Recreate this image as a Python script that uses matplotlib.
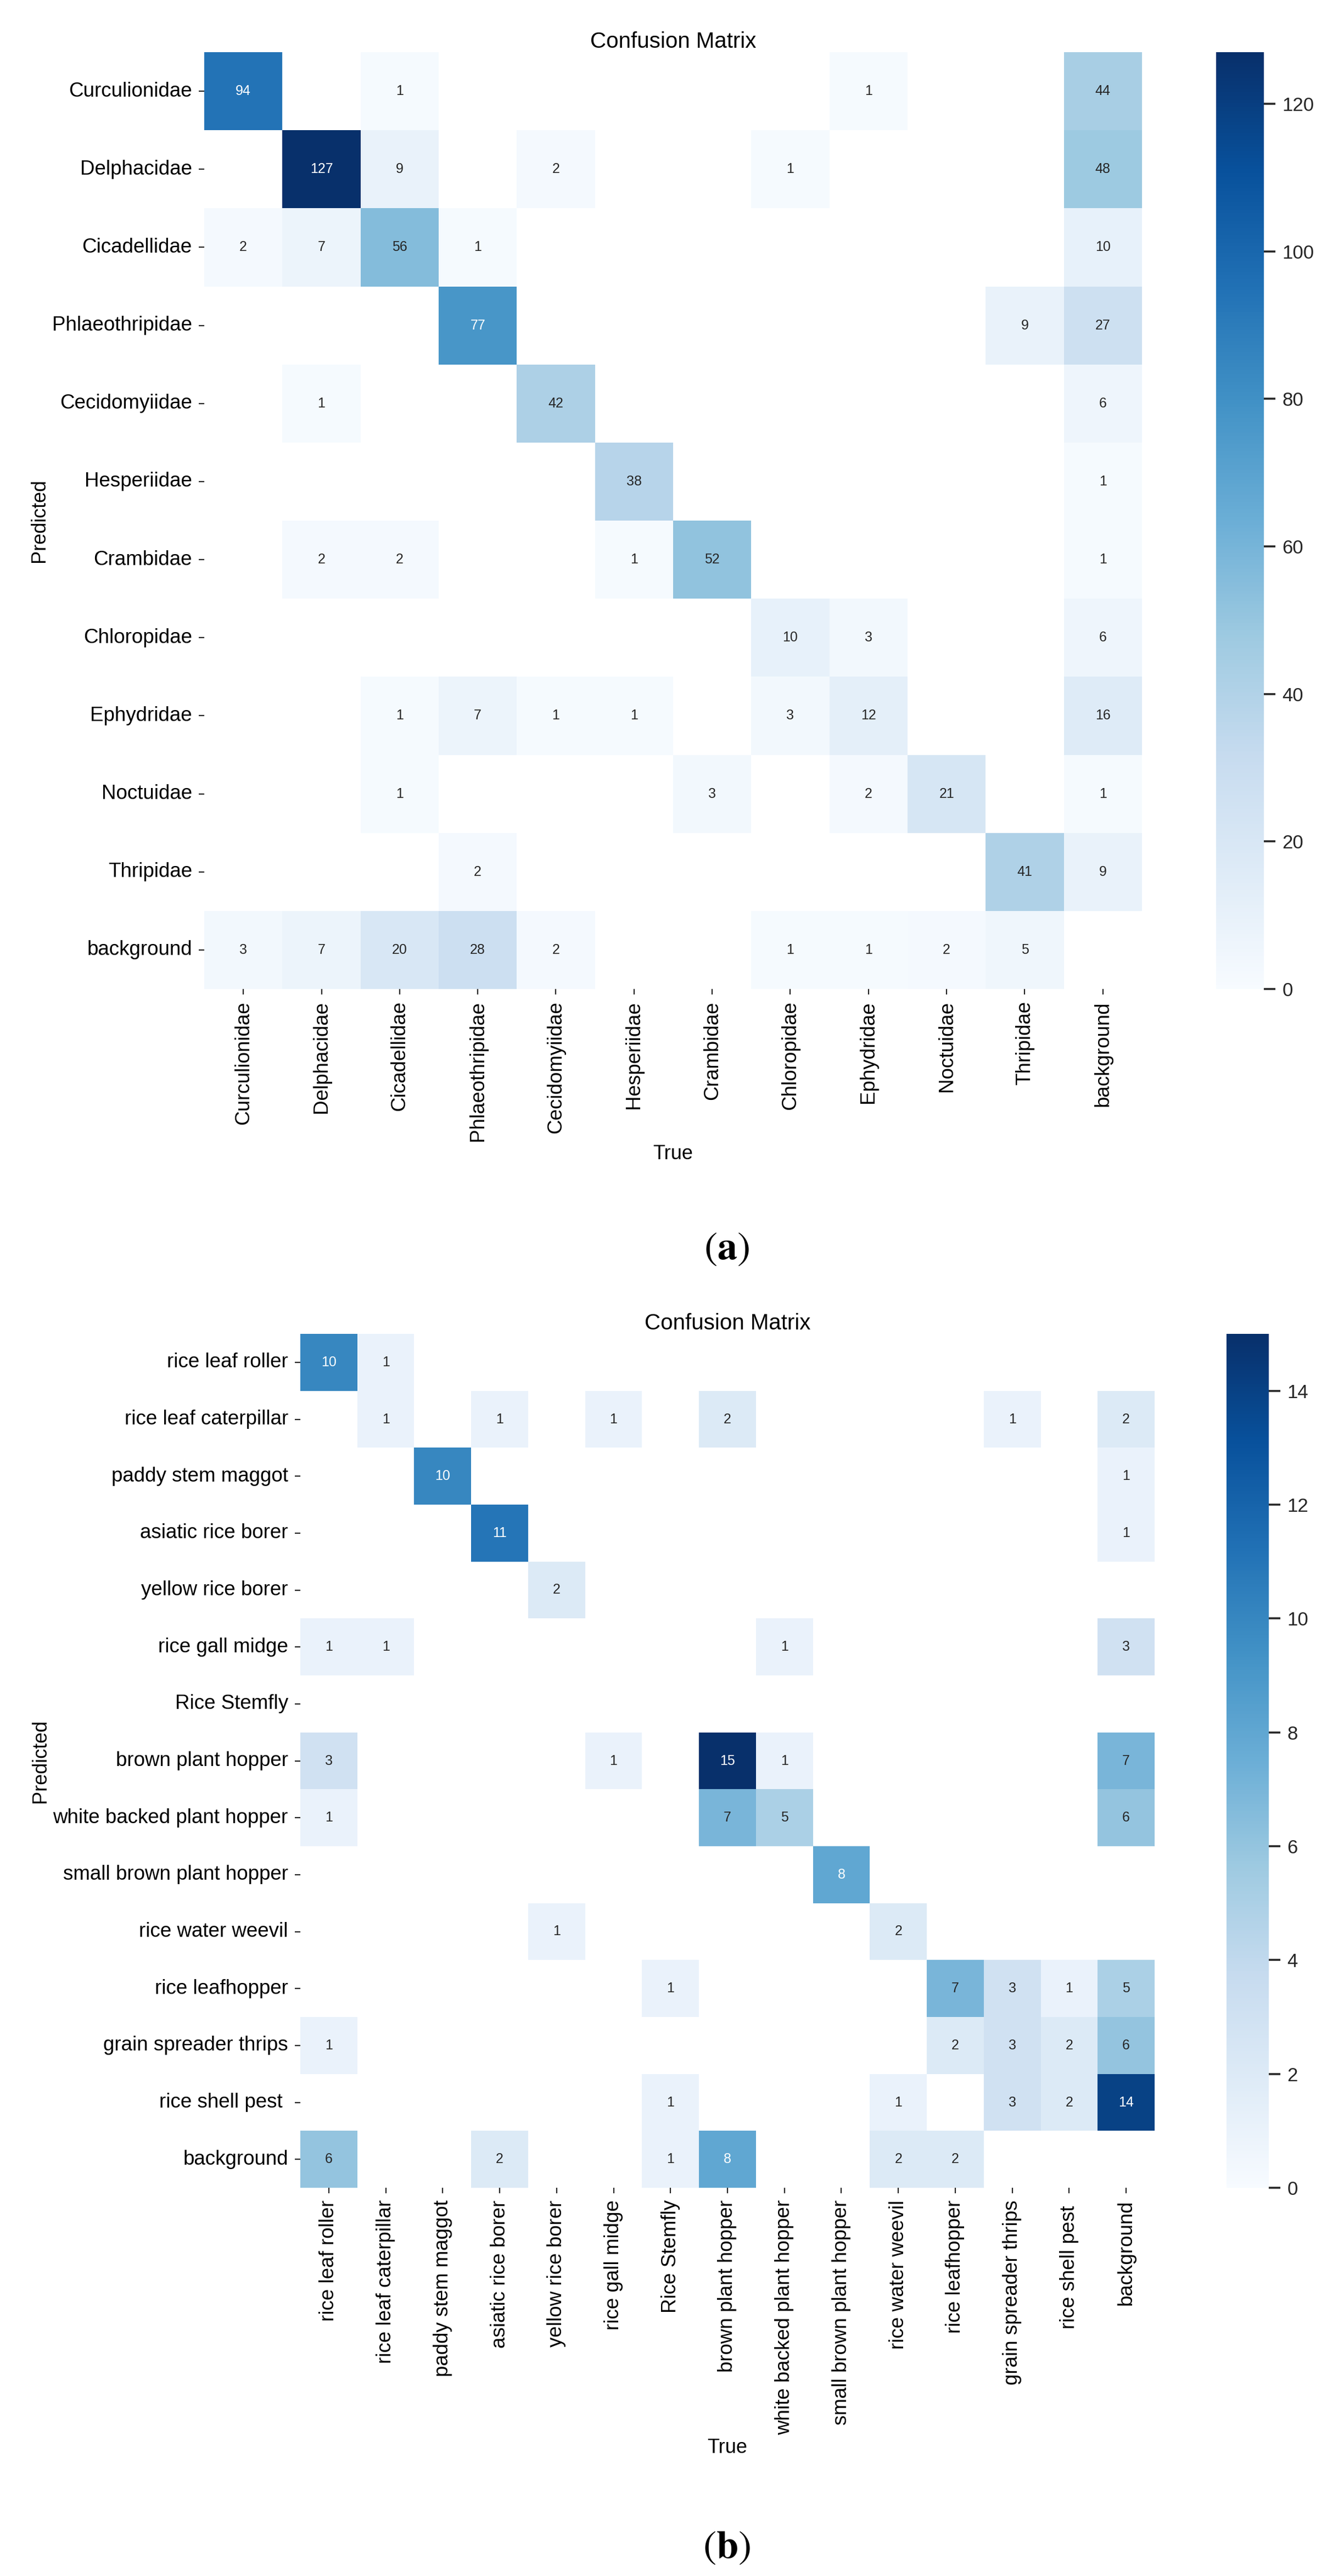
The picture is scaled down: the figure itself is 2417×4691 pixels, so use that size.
import numpy as np
import matplotlib
matplotlib.use('Agg')
import matplotlib.pyplot as plt
import seaborn as sns

plt.rcParams['font.family'] = ['Liberation Sans', 'DejaVu Sans']
plt.rcParams['mathtext.fontset'] = 'stix'

# (a) insect families, rows = predicted, columns = true
families = ['Curculionidae', 'Delphacidae', 'Cicadellidae', 'Phlaeothripidae',
            'Cecidomyiidae', 'Hesperiidae', 'Crambidae', 'Chloropidae',
            'Ephydridae', 'Noctuidae', 'Thripidae', 'background']
cm_families = [
    [94, 0, 1, 0, 0, 0, 0, 0, 1, 0, 0, 44],
    [0, 127, 9, 0, 2, 0, 0, 1, 0, 0, 0, 48],
    [2, 7, 56, 1, 0, 0, 0, 0, 0, 0, 0, 10],
    [0, 0, 0, 77, 0, 0, 0, 0, 0, 0, 9, 27],
    [0, 1, 0, 0, 42, 0, 0, 0, 0, 0, 0, 6],
    [0, 0, 0, 0, 0, 38, 0, 0, 0, 0, 0, 1],
    [0, 2, 2, 0, 0, 1, 52, 0, 0, 0, 0, 1],
    [0, 0, 0, 0, 0, 0, 0, 10, 3, 0, 0, 6],
    [0, 0, 1, 7, 1, 1, 0, 3, 12, 0, 0, 16],
    [0, 0, 1, 0, 0, 0, 3, 0, 2, 21, 0, 1],
    [0, 0, 0, 2, 0, 0, 0, 0, 0, 0, 41, 9],
    [3, 7, 20, 28, 2, 0, 0, 1, 1, 2, 5, 0],
]

# (b) rice pests
pests = ['rice leaf roller', 'rice leaf caterpillar', 'paddy stem maggot',
         'asiatic rice borer', 'yellow rice borer', 'rice gall midge',
         'Rice Stemfly', 'brown plant hopper', 'white backed plant hopper',
         'small brown plant hopper', 'rice water weevil', 'rice leafhopper',
         'grain spreader thrips', 'rice shell pest ', 'background']
cm_pests = [
    [10, 1, 0, 0, 0, 0, 0, 0, 0, 0, 0, 0, 0, 0, 0],
    [0, 1, 0, 1, 0, 1, 0, 2, 0, 0, 0, 0, 1, 0, 2],
    [0, 0, 10, 0, 0, 0, 0, 0, 0, 0, 0, 0, 0, 0, 1],
    [0, 0, 0, 11, 0, 0, 0, 0, 0, 0, 0, 0, 0, 0, 1],
    [0, 0, 0, 0, 2, 0, 0, 0, 0, 0, 0, 0, 0, 0, 0],
    [1, 1, 0, 0, 0, 0, 0, 0, 1, 0, 0, 0, 0, 0, 3],
    [0, 0, 0, 0, 0, 0, 0, 0, 0, 0, 0, 0, 0, 0, 0],
    [3, 0, 0, 0, 0, 1, 0, 15, 1, 0, 0, 0, 0, 0, 7],
    [1, 0, 0, 0, 0, 0, 0, 7, 5, 0, 0, 0, 0, 0, 6],
    [0, 0, 0, 0, 0, 0, 0, 0, 0, 8, 0, 0, 0, 0, 0],
    [0, 0, 0, 0, 1, 0, 0, 0, 0, 0, 2, 0, 0, 0, 0],
    [0, 0, 0, 0, 0, 0, 1, 0, 0, 0, 0, 7, 3, 1, 5],
    [1, 0, 0, 0, 0, 0, 0, 0, 0, 0, 0, 2, 3, 2, 6],
    [0, 0, 0, 0, 0, 0, 1, 0, 0, 0, 1, 0, 3, 2, 14],
    [6, 0, 0, 2, 0, 0, 1, 8, 0, 0, 2, 2, 0, 0, 0],
]

W, H = 2417, 4691


def px_rect(left, top, right, bottom):
    return [left / W, 1 - bottom / H, (right - left) / W, (bottom - top) / H]


def draw_cm(fig, ax_rect, cbar_rect, matrix, labels):
    ax = fig.add_axes(ax_rect)
    cax = fig.add_axes(cbar_rect)
    data = np.array(matrix)
    sns.heatmap(data, mask=(data == 0), annot=True, fmt='d', cmap='Blues',
                vmin=0, vmax=data.max(), xticklabels=labels, yticklabels=labels,
                ax=ax, cbar_ax=cax, annot_kws={'size': 18})
    ax.set_title('Confusion Matrix', fontsize=29)
    ax.set_xlabel('True', fontsize=26)
    ax.set_ylabel('Predicted', fontsize=26)
    ax.tick_params(axis='both', length=7, width=1.6, pad=9, labelsize=26.5,
                   color='#262626', labelcolor='black')
    plt.setp(ax.get_xticklabels(), rotation=90)
    plt.setp(ax.get_yticklabels(), rotation=0)
    cax.tick_params(length=15, width=2.6, pad=9, labelsize=25,
                    color='#262626', labelcolor='#262626')
    return ax


fig = plt.figure(figsize=(W / 100, H / 100), dpi=100)

draw_cm(fig, px_rect(372, 95, 2080, 1801), px_rect(2215, 95, 2302, 1801),
        cm_families, families)
draw_cm(fig, px_rect(547, 2429, 2103, 3984), px_rect(2234, 2429, 2311, 3984),
        cm_pests, pests)

fig.text(1323 / W, 1 - 2275 / H, r'$(\mathbf{a})$', ha='center', va='center', fontsize=52)
fig.text(1323 / W, 1 - 4640 / H, r'$(\mathbf{b})$', ha='center', va='center', fontsize=52)

fig.savefig('out.png', dpi=100)
